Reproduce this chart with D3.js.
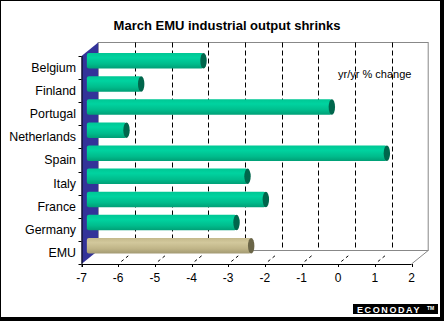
<!DOCTYPE html>
<html>
<head>
<meta charset="utf-8">
<script src="https://cdn.jsdelivr.net/npm/d3@7"></script>
<style>
  body { margin: 0; background: #fff; }
  svg { display: block; font-family: Arial, "Liberation Sans", sans-serif; }
</style>
</head>
<body>
<div id="chart"></div>
<script>
var countries = ['Belgium', 'Finland', 'Portugal', 'Netherlands', 'Spain', 'Italy', 'France', 'Germany', 'EMU'];
var changes = [-3.9, -5.6, -0.4, -6.0, 1.1, -2.7, -2.2, -3.0, -2.6];
var xTicks = [-7, -6, -5, -4, -3, -2, -1, 0, 1, 2];

var width = 444, height = 321;
var DX = 16.7, DY = -13.5;   // depth of the 3d box

var svg = d3.select('#chart').append('svg')
            .attr('width', width)
            .attr('height', height);

// frame with shadow on right and bottom
svg.append('rect')
   .attr('x', 0).attr('y', 0)
   .attr('width', width).attr('height', height)
   .style('fill', '#000');
svg.append('rect')
   .attr('x', 1).attr('y', 1)
   .attr('width', 439).attr('height', 316)
   .style('fill', '#fff');

var x = d3.scaleLinear().domain([-7, 2]).range([81.5, 411.5]);
var y = d3.scaleBand().domain(countries).range([56, 264]).padding(0);

var defs = svg.append('defs');
function addGrad(id, stops) {
    var g = defs.append('linearGradient')
                .attr('id', id)
                .attr('x1', 0).attr('y1', 0)
                .attr('x2', 0).attr('y2', 1);
    stops.forEach(function (s) {
        g.append('stop').attr('offset', s[0]).attr('stop-color', s[1]);
    });
}
addGrad('green', [[0, '#00c794'], [0.3, '#00d3a0'], [0.7, '#00bc8c'], [1, '#009f76']]);
addGrad('tan', [[0, '#c4b98b'], [0.3, '#d2c89c'], [0.7, '#bfb487'], [1, '#a39a73']]);

var x0 = x(-7), x1 = x(2);
var yTop = y.range()[0], yBot = y.range()[1];

// back wall
svg.append('rect')
   .attr('x', x0 + DX).attr('y', yTop + DY)
   .attr('width', x1 - x0).attr('height', yBot - yTop)
   .style('fill', '#fff')
   .style('stroke', '#888')
   .style('stroke-width', 1);

// floor right edge
svg.append('line')
   .attr('x1', x1).attr('y1', yBot)
   .attr('x2', x1 + DX).attr('y2', yBot + DY)
   .style('stroke', '#888');

// left wall
svg.append('polygon')
   .attr('points', [[x0, yTop], [x0 + DX, yTop + DY], [x0 + DX, yBot + DY], [x0, yBot]].join(' '))
   .style('fill', '#333399');

// dashed gridlines on back wall and floor
var inner = xTicks.filter(function (d) { return d > -7 && d < 2; });
svg.selectAll('.grid')
   .data(inner)
   .enter()
   .append('line')
   .attr('class', 'grid')
   .attr('x1', function (d) { return Math.round(x(d) + DX) + 0.5; })
   .attr('x2', function (d) { return Math.round(x(d) + DX) + 0.5; })
   .attr('y1', yTop + DY)
   .attr('y2', yBot + DY)
   .style('stroke', '#000')
   .style('stroke-dasharray', '5,3');
svg.selectAll('.floor')
   .data(inner)
   .enter()
   .append('line')
   .attr('class', 'floor')
   .attr('x1', function (d) { return x(d); })
   .attr('y1', yBot)
   .attr('x2', function (d) { return x(d) + DX; })
   .attr('y2', yBot + DY)
   .style('stroke', '#000')
   .style('stroke-dasharray', '0,4,3,3,3,10');

// bars as cylinders
var bh = y.bandwidth() * 0.67;
var bars = svg.selectAll('.bar')
              .data(countries)
              .enter()
              .append('g')
              .attr('class', 'bar');

function barY(d) { return y(d) + y.bandwidth() / 2 + DY / 2; }

bars.append('rect')
    .attr('x', x(-7) + DX / 2 - 3)
    .attr('y', function (d) { return barY(d) - bh / 2; })
    .attr('width', function (d, i) { return x(changes[i]) - x(-7) + 3; })
    .attr('height', bh)
    .attr('rx', 2)
    .style('fill', function (d) { return d === 'EMU' ? 'url(#tan)' : 'url(#green)'; });

bars.append('ellipse')
    .attr('cx', function (d, i) { return x(changes[i]) + DX / 2; })
    .attr('cy', function (d) { return barY(d); })
    .attr('rx', 3.2)
    .attr('ry', bh / 2)
    .style('fill', function (d) { return d === 'EMU' ? '#6b6648' : '#00664c'; });

// axes
svg.append('line')
   .attr('x1', x0).attr('y1', yBot + 0.5)
   .attr('x2', x1).attr('y2', yBot + 0.5)
   .style('stroke', '#000');
svg.append('line')
   .attr('x1', x0 + 0.5).attr('y1', yTop)
   .attr('x2', x0 + 0.5).attr('y2', yBot + 3)
   .style('stroke', '#000');

svg.selectAll('.xtick')
   .data(xTicks)
   .enter()
   .append('line')
   .attr('class', 'xtick')
   .attr('x1', function (d) { return Math.round(x(d)) + 0.5; })
   .attr('x2', function (d) { return Math.round(x(d)) + 0.5; })
   .attr('y1', yBot)
   .attr('y2', yBot + 3)
   .style('stroke', '#000');

var yTicks = countries.map(function (d) { return y(d); }).concat([yBot]);
svg.selectAll('.ytick')
   .data(yTicks)
   .enter()
   .append('line')
   .attr('class', 'ytick')
   .attr('x1', x0 - 3)
   .attr('x2', x0)
   .attr('y1', function (d) { return Math.round(d) + 0.5; })
   .attr('y2', function (d) { return Math.round(d) + 0.5; })
   .style('stroke', '#000');

svg.selectAll('.xlabel')
   .data(xTicks)
   .enter()
   .append('text')
   .attr('class', 'xlabel')
   .attr('x', function (d) { return x(d); })
   .attr('y', 282)
   .attr('text-anchor', 'middle')
   .style('font-size', '12px')
   .text(function (d) { return d; });

svg.selectAll('.ylabel')
   .data(countries)
   .enter()
   .append('text')
   .attr('class', 'ylabel')
   .attr('x', 76)
   .attr('y', function (d) { return y(d) + y.bandwidth() / 2; })
   .attr('dy', '0.36em')
   .attr('text-anchor', 'end')
   .style('font-size', '12.4px')
   .text(function (d) { return d; });

// title and note
svg.append('text')
   .attr('x', 227)
   .attr('y', 30)
   .attr('text-anchor', 'middle')
   .style('font-size', '13px')
   .style('font-weight', 'bold')
   .text('March EMU industrial output shrinks');

svg.append('text')
   .attr('x', 338)
   .attr('y', 78)
   .style('font-size', '11px')
   .text('yr/yr % change');

// logo
svg.append('rect')
   .attr('x', 353).attr('y', 304)
   .attr('width', 85).attr('height', 10)
   .style('fill', '#000');
svg.append('text')
   .attr('x', 357)
   .attr('y', 312.5)
   .style('font-size', '9px')
   .style('font-weight', 'bold')
   .style('letter-spacing', '1.6px')
   .style('fill', '#fff')
   .text('ECONODAY');
svg.append('text')
   .attr('x', 427)
   .attr('y', 310)
   .style('font-size', '5px')
   .style('font-weight', 'bold')
   .style('fill', '#fff')
   .text('TM');
</script>
</body>
</html>
